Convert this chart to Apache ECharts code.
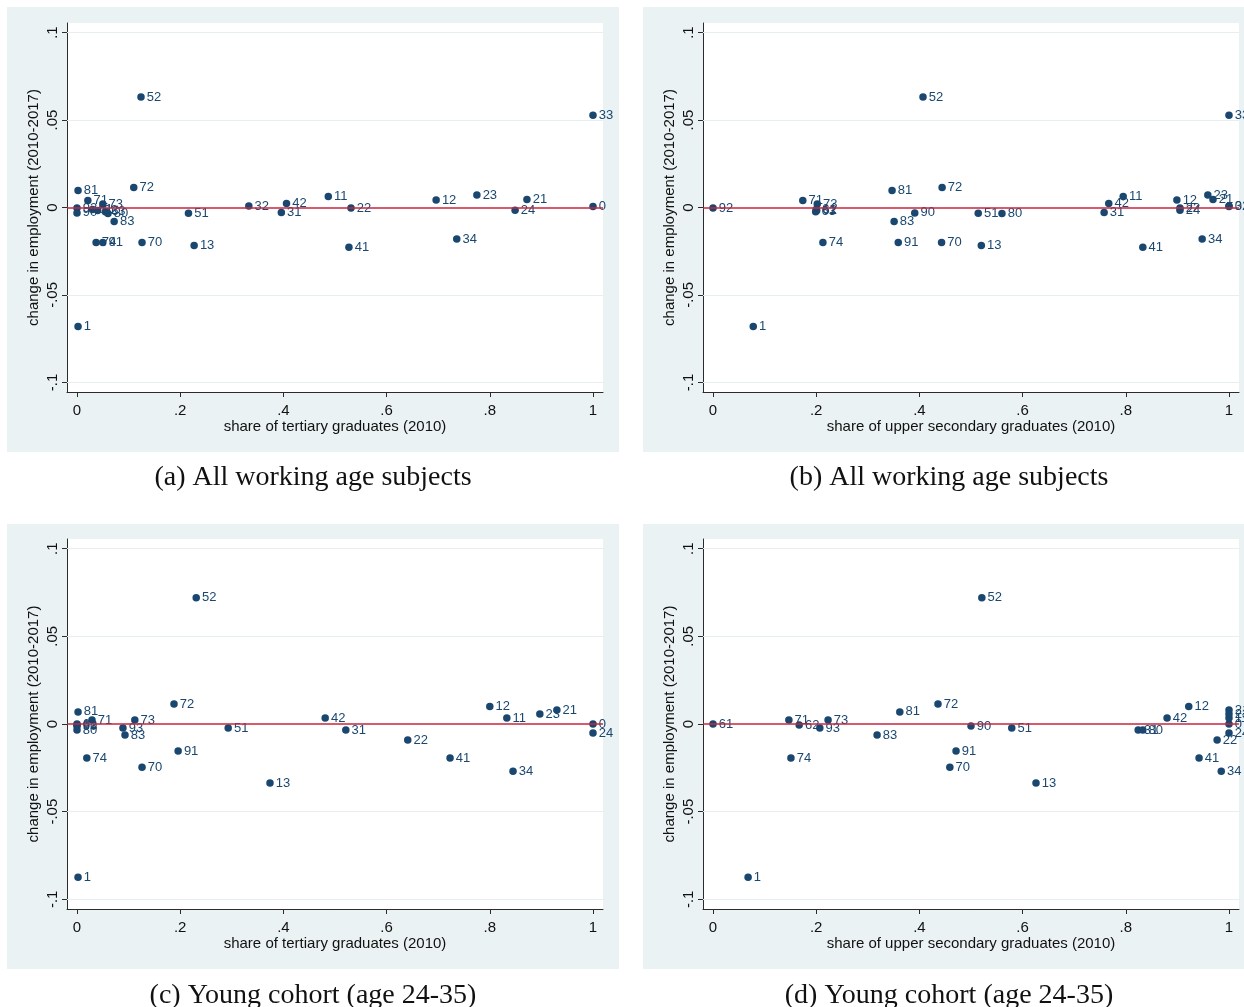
<!DOCTYPE html>
<html><head><meta charset="utf-8">
<script src="https://cdn.jsdelivr.net/npm/echarts@6/dist/echarts.min.js"></script>
<style>html,body{margin:0;padding:0;background:#fff}#c{width:1244px;height:1007px}</style>
</head><body><div id="c"></div>
<script>
// ---- Data: all working age subjects (panels a, b) ----
const allSectors   = ['52','33','81','72','71','73','92','90','61','62','63','80','83','74','91','70','51','13','32','42','31','11','22','41','12','23','21','24','34','0','1'];
const allTertiary  = [0.124,1.0,0.002,0.110,0.021,0.050,0.0,0.0,0.030,0.040,0.055,0.060,0.072,0.037,0.050,0.126,0.216,0.227,0.333,0.406,0.396,0.487,0.531,0.527,0.696,0.775,0.872,0.849,0.736,1.0,0.002];
const allUpperSec  = [0.407,1.0,0.347,0.444,0.174,0.202,0.0,0.391,0.200,0.201,0.199,0.560,0.351,0.213,0.359,0.443,0.514,0.520,1.0,0.767,0.758,0.795,0.905,0.833,0.899,0.959,0.969,0.905,0.948,1.0,0.078];
const allChange    = [0.0632,0.0527,0.0097,0.0114,0.0040,0.0020,-0.0003,-0.0031,-0.0011,-0.0017,-0.0024,-0.0035,-0.0080,-0.0200,-0.0200,-0.0200,-0.0033,-0.0217,0.0009,0.0023,-0.0028,0.0063,-0.0003,-0.0227,0.0043,0.0071,0.0046,-0.0016,-0.0180,0.0006,-0.0680];

// ---- Data: young cohort age 24-35 (panels c, d) ----
const youngSectors  = ['81','71','73','93','83','74','70','72','52','91','51','13','42','31','22','41','12','11','23','21','34','0','24','1','61','62','90','80'];
const youngTertiary = [0.002,0.029,0.112,0.089,0.093,0.019,0.126,0.188,0.231,0.196,0.293,0.374,0.481,0.521,0.641,0.723,0.800,0.833,0.897,0.930,0.845,1.0,1.0,0.002,0.0,0.0,0.0,0.0];
const youngUpperSec = [0.362,0.147,0.223,0.207,0.318,0.151,0.459,0.436,0.521,0.471,0.579,0.626,0.880,0.824,0.977,0.942,0.922,1.0,1.0,1.0,0.985,1.0,1.0,0.068,0.0,0.167,0.500,0.833];
const youngChange   = [0.0069,0.0023,0.0023,-0.0023,-0.0063,-0.0194,-0.0246,0.0114,0.0720,-0.0154,-0.0023,-0.0337,0.0034,-0.0034,-0.0091,-0.0194,0.0100,0.0034,0.0057,0.0080,-0.0269,0.0,-0.0051,-0.0874,0.0,-0.0006,-0.0011,-0.0034];

// ---- Axes text ----
const xTickValues = [0,0.2,0.4,0.6,0.8,1];
const xTickLabels = ['0','.2','.4','.6','.8','1'];
const yTickValues = [-0.1,-0.05,0,0.05,0.1];
const yTickLabels = ['-.1','-.05','0','.05','.1'];
const yTitle = 'change in employment (2010-2017)';
const xTitles = ['share of tertiary graduates (2010)','share of upper secondary graduates (2010)','share of tertiary graduates (2010)','share of upper secondary graduates (2010)'];
const captions = ['(a) All working age subjects','(b) All working age subjects','(c) Young cohort (age 24-35)','(d) Young cohort (age 24-35)'];

// ---- Build ----
const NAVY = '#1a476f', RED = '#c8243d', GRIDC = '#e6eef0', BG = '#eaf2f3', AX = '#2b2b2b';
const FONT = '"Liberation Sans", Arial, sans-serif';
const grids = [
  {left:67, top:23, width:536, height:369},
  {left:703, top:23, width:536, height:369},
  {left:67, top:539, width:536, height:370},
  {left:703, top:539, width:536, height:370}
];
const panelRects = [[7,7,612,445],[643,7,620,445],[7,524,612,445],[643,524,620,445]];
const capPos = [[313,478],[949,478],[313,996],[949,996]];

function lab(values, labels){ return v => { const i = values.findIndex(t => Math.abs(t - v) < 1e-9); return i < 0 ? '' : labels[i]; }; }

const panels = [
  {names: allSectors, xs: allTertiary, ys: allChange},
  {names: allSectors, xs: allUpperSec, ys: allChange},
  {names: youngSectors, xs: youngTertiary, ys: youngChange},
  {names: youngSectors, xs: youngUpperSec, ys: youngChange}
];

const option = {
  animation: false,
  grid: grids.map(g => Object.assign({show:true, backgroundColor:'#fff', borderWidth:0, containLabel:false}, g)),
  xAxis: grids.map((g,i) => ({
    type:'value', gridIndex:i, min:-0.0194, max:1.0194,
    name: xTitles[i], nameLocation:'middle', nameGap:27,
    nameTextStyle:{fontFamily:FONT, fontSize:15, color:'#111'},
    axisLine:{show:true, onZero:false, lineStyle:{color:AX, width:1}},
    axisTick:{show:true, length:5, customValues:xTickValues, lineStyle:{color:AX}},
    axisLabel:{show:true, margin:11, customValues:xTickValues, formatter:lab(xTickValues,xTickLabels), fontFamily:FONT, fontSize:15, color:'#111'},
    splitLine:{show:false}
  })),
  yAxis: grids.map((g,i) => ({
    type:'value', gridIndex:i, min:-0.1055, max:0.1055,
    name: yTitle, nameLocation:'middle', nameGap:26, nameRotate:90,
    nameTextStyle:{fontFamily:FONT, fontSize:15, color:'#111'},
    axisLine:{show:true, onZero:false, lineStyle:{color:AX, width:1}},
    axisTick:{show:true, length:5, customValues:yTickValues, lineStyle:{color:AX}},
    axisLabel:{show:true, rotate:90, margin:7, customValues:yTickValues, formatter:lab(yTickValues,yTickLabels), fontFamily:FONT, fontSize:15, color:'#111'},
    splitLine:{show:false}
  })),
  graphic: [
    ...panelRects.map(r => ({type:'rect', z:-100, silent:true, shape:{x:r[0], y:r[1], width:r[2], height:r[3]}, style:{fill:BG}})),
    ...captions.map((c,i) => ({type:'text', z:100, silent:true, x:capPos[i][0], y:capPos[i][1],
      style:{text:c, fill:'#111', font:'28px "Liberation Serif", "Times New Roman", serif', textAlign:'center', textVerticalAlign:'middle'}}))
  ],
  series: []
};

panels.forEach((p,i) => {
  option.series.push({
    type:'scatter', xAxisIndex:i, yAxisIndex:i, data:[], silent:true, z:1,
    markLine:{silent:true, symbol:['none','none'], label:{show:false}, animation:false,
      data: yTickValues.filter(v => v !== 0).map(v => ({yAxis:v, lineStyle:{color:GRIDC, width:1, type:'solid'}}))
        .concat([{yAxis:0, lineStyle:{color:RED, width:1.5, type:'solid'}}])}
  });
  option.series.push({
    type:'scatter', xAxisIndex:i, yAxisIndex:i, z:3, silent:true,
    symbol:'circle', symbolSize:7.5, itemStyle:{color:NAVY, opacity:1},
    label:{show:true, position:'right', distance:2, formatter:'{b}', color:NAVY, fontFamily:FONT, fontSize:13},
    emphasis:{disabled:true},
    data: p.names.map((n,k) => ({name:n, value:[p.xs[k], p.ys[k]]}))
  });
});

const chart = echarts.init(document.getElementById('c'), null, {renderer:'canvas'});
chart.setOption(option);
</script>
</body></html>
